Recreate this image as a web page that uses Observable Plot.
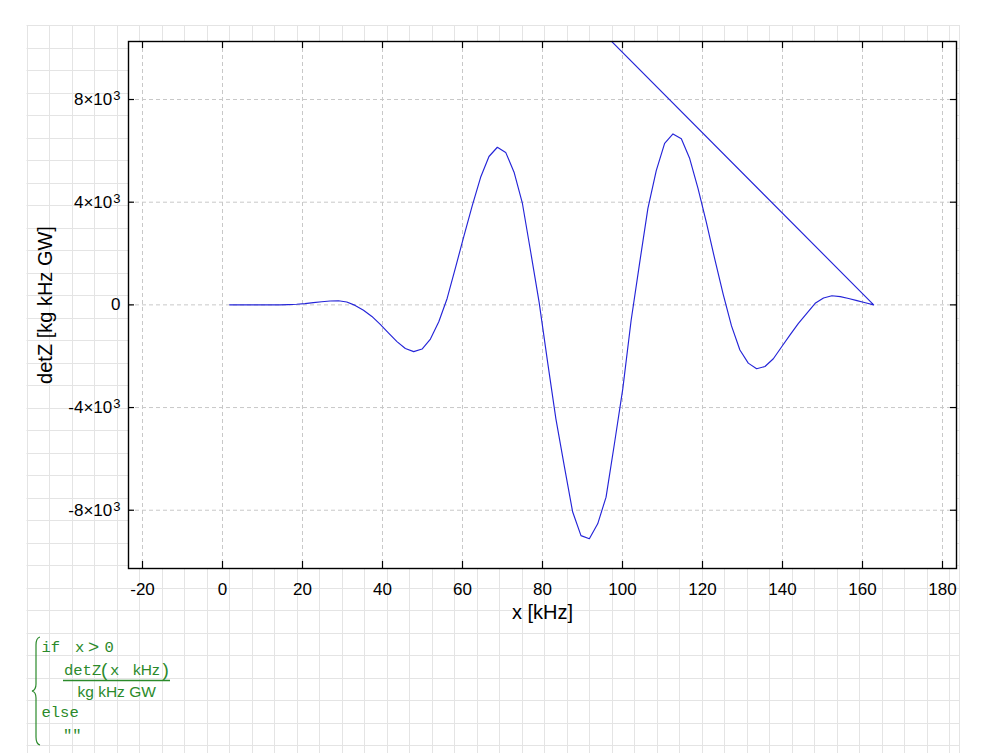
<!DOCTYPE html>
<html><head><meta charset="utf-8">
<script src="https://cdn.jsdelivr.net/npm/d3@7"></script>
<script src="https://cdn.jsdelivr.net/npm/@observablehq/plot@0.6"></script>
<style>
html,body{margin:0;padding:0;background:#fff;}
#wrap{position:relative;width:982px;height:753px;overflow:hidden;}
#bg{position:absolute;left:0;top:0;}
#chart{position:absolute;left:0;top:0;}
</style></head><body>
<div id="wrap"><svg id="bg" width="982" height="753"></svg><div id="chart"></div></div>
<script>
// x [kHz] sample positions
const xValues = [1.80,3.89,5.98,8.07,10.16,12.25,14.35,16.44,18.53,20.62,22.71,24.80,26.89,28.98,31.07,33.16,35.25,37.35,39.44,41.53,43.62,45.71,47.80,49.89,51.98,54.07,56.16,58.25,60.35,62.44,64.53,66.62,68.71,70.80,72.89,74.98,77.07,79.16,81.25,83.35,85.44,87.53,89.62,91.71,93.80,95.89,97.98,100.07,102.16,104.25,106.35,108.44,110.53,112.62,114.71,116.80,118.89,120.98,123.07,125.16,127.25,129.35,131.44,133.53,135.62,137.71,139.80,141.89,143.98,146.07,148.16,150.25,152.35,154.44,156.53,158.62,160.71,162.80,0];
// detZ [kg kHz GW]
const detZ = [0,0,0,0,0,0,2,10,25,50,85,120,150,160,110,-20,-210,-450,-760,-1100,-1430,-1700,-1820,-1720,-1330,-660,250,1450,2680,3870,4970,5780,6140,5940,5170,3950,2040,100,-2200,-4440,-6270,-8060,-8990,-9110,-8530,-7490,-5410,-3270,-600,1600,3760,5230,6290,6660,6470,5700,4530,3200,1780,420,-820,-1760,-2270,-2490,-2400,-2100,-1630,-1170,-720,-330,60,270,355,320,250,165,80,0,25500];
const xTicks = [-20,0,20,40,60,80,100,120,140,160,180];
const yTicks = [-8000,-4000,0,4000,8000];
const yTickLabels = ["-8×10³","-4×10³","0","4×10³","8×10³"];
const xLabel = "x [kHz]";
const yLabel = "detZ [kg kHz GW]";

const data = xValues.map((x, i) => ({x, y: detZ[i]}));

const frameH = 527;
const plot = Plot.plot({
  width: 982, height: 640,
  marginLeft: 128, marginRight: 26, marginTop: 41, marginBottom: 72,
  style: {background: "transparent", fontFamily: '"Liberation Sans", Arial, sans-serif', fontSize: "17px", color: "#000"},
  x: {domain: [-23.5, 183.5]},
  y: {domain: [-10270, 10260]},
  marks: [
    Plot.frame({fill: "white"}),
    Plot.ruleX(xTicks, {x: d => d, stroke: "#c8c8c8", strokeDasharray: "4,3"}),
    Plot.ruleY(yTicks, {y: d => d, stroke: "#c8c8c8", strokeDasharray: "4,3"}),
    Plot.line(data, {x: "x", y: "y", stroke: "#2424d8", strokeWidth: 1.15, clip: true}),
    Plot.tickX(xTicks, {x: d => d, insetTop: frameH - 7, stroke: "#000", strokeWidth: 1.2}),
    Plot.tickX(xTicks, {x: d => d, insetBottom: frameH - 7, stroke: "#000", strokeWidth: 1.2}),
    Plot.tickY(yTicks, {y: d => d, insetRight: 828 - 6, stroke: "#000", strokeWidth: 1.2}),
    Plot.tickY(yTicks, {y: d => d, insetLeft: 828 - 6, stroke: "#000", strokeWidth: 1.2}),
    Plot.frame({stroke: "#000", strokeWidth: 1.4}),
    Plot.axisX(xTicks, {tickSize: 0, tickPadding: 14, label: null, tickFormat: d => String(d)}),
    Plot.axisY(yTicks, {tickSize: 0, tickPadding: 8, label: null, tickFormat: d => yTickLabels[yTicks.indexOf(d)]}),
    Plot.text([xLabel], {text: d => d, frameAnchor: "bottom", textAnchor: "middle", dy: 50, fontSize: 20}),
    Plot.text([yLabel], {text: d => d, frameAnchor: "left", textAnchor: "middle", rotate: -90, dx: -83, fontSize: 20})
  ]
});
document.getElementById("chart").appendChild(plot);

// superscript exponent in y tick labels
d3.select(plot).selectAll('g[aria-label="y-axis tick label"] text').each(function() {
  const t = this.textContent;
  if (t.endsWith("³")) {
    const sel = d3.select(this);
    sel.text(t.slice(0, -1));
    sel.append("tspan").attr("dy", "-0.36em").attr("dx", "1").style("font-size", "13px").text("3");
  }
});

// worksheet background grid + formula
const bg = d3.select("#bg");
const gridColor = "#e4e4e4";
for (let k = 0; 26.7 + 22.5 * k <= 960; k++) {
  const x = Math.round(26.7 + 22.5 * k) + 0.5;
  bg.append("line").attr("x1", x).attr("x2", x).attr("y1", 25).attr("y2", 753).attr("stroke", gridColor);
}
bg.append("line").attr("x1", 959.5).attr("x2", 959.5).attr("y1", 25).attr("y2", 753).attr("stroke", gridColor);
for (let k = 0; 25 + 22.5 * k <= 753; k++) {
  const y = Math.round(25 + 22.5 * k) + 0.5;
  bg.append("line").attr("x1", 26.5).attr("x2", 960).attr("y1", y).attr("y2", y).attr("stroke", gridColor);
}

const green = "#2b8a2b";
const mono = '"Liberation Mono", "Courier New", monospace';
const sans = '"Liberation Sans", Arial, sans-serif';
const f = bg.append("g").attr("fill", green);
f.append("path").attr("d", "M40,637 Q36,638 36,645 L36,684 Q36,690 32,691 Q36,692 36,698 L36,737 Q36,744 40,745")
  .attr("fill", "none").attr("stroke", green).attr("stroke-width", 1.2);
function t(x, y, s, font, size) {
  f.append("text").attr("x", x).attr("y", y).style("font-family", font).style("font-size", size + "px").style("white-space", "pre").text(s);
}
t(41.5, 652, "if", mono, 15.5);
t(75, 652, "x", mono, 15.5);
t(88, 653, ">", sans, 19);
t(104.5, 652, "0", mono, 15.5);
t(64, 675, "detZ", mono, 15.5);
t(101, 676, "(", sans, 19);
t(110, 675, "x", mono, 15.5);
t(133, 675, "kHz", sans, 15.5);
t(162.5, 676, ")", sans, 19);
f.append("line").attr("x1", 63).attr("x2", 170).attr("y1", 680.5).attr("y2", 680.5).attr("stroke", green).attr("stroke-width", 1.3);
t(77.5, 697, "kg kHz GW", sans, 15.5);
t(41.5, 716.5, "else", mono, 15.5);
t(63, 740, "\"\"", mono, 15.5);
</script>
</body></html>
